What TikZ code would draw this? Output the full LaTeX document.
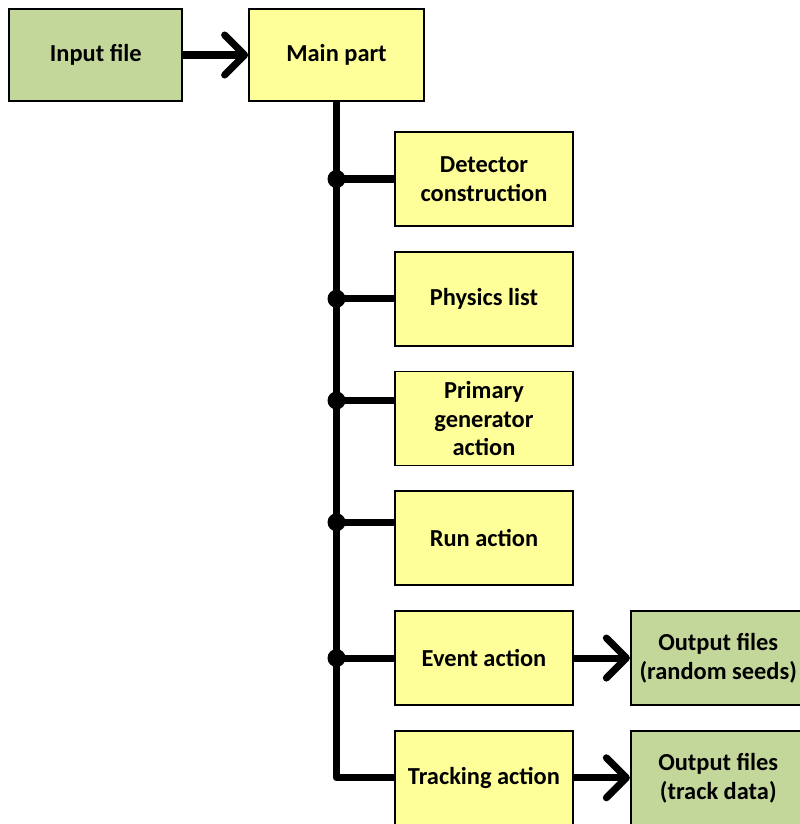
\documentclass[tikz,border=0pt]{standalone}
\usepackage{fontspec}
\setmainfont{Carlito}
\usetikzlibrary{positioning,arrows.meta}
\definecolor{boxyellow}{HTML}{FFFF99}
\definecolor{boxgreen}{HTML}{C4D79B}

\begin{document}
\begin{tikzpicture}[
        font=\fontsize{13.9}{16.5}\selectfont\bfseries,
        box/.style={draw, line width=1pt, align=center, minimum width=3.56cm, minimum height=1.88cm, inner sep=2pt},
        ybox/.style={box, fill=boxyellow},
        gbox/.style={box, fill=boxgreen},
        link/.style={line width=4pt},
        flow/.style={line width=4pt, -{Straight Barb[length=4mm,width=8mm,round]}},
        node distance=0.48cm
    ]
            \useasboundingbox (0,0) rectangle (16,-16.48);
            \clip (0,0) rectangle (16,-16.48);

            % Entree et programme principal
            \node[ybox, minimum width=3.5cm, minimum height=1.84cm] (main) at (6.73,-1.10) {Main part};
            \node[gbox, minimum width=3.46cm, minimum height=1.84cm, left=1.3cm of main] (input) {Input file};
            \draw[flow] (input) -- (main);

            % Classes utilisateur
            \node[ybox] (det) at (9.68,-3.58) {Detector\\construction};
            \node[ybox, below=of det] (phys) {Physics list};
            \node[ybox, below=of phys] (prim) {Primary\\generator\\action};
            \node[ybox, below=of prim] (run) {Run action};
            \node[ybox, below=of run] (evt) {Event action};
            \node[ybox, below=of evt] (trk) {Tracking action};

            % Fichiers de sortie
            \node[gbox, minimum width=3.5cm, right=1.12cm of evt] (seeds) {Output files\\(random seeds)};
            \node[gbox, minimum width=3.5cm, right=1.12cm of trk] (tracks) {Output files\\(track data)};
            \draw[flow] (evt) -- (seeds);
            \draw[flow] (trk) -- (tracks);

            % Tronc et branches
            \coordinate (pprim) at ([yshift=0.36cm]prim.west);
            \coordinate (prun) at ([yshift=0.32cm]run.west);
            \draw[link, line join=round] (main.south) |- (trk.west);
            \foreach \t in {det.west, phys.west, pprim, prun, evt.west} {
                \draw[link] (main.south |- \t) -- (\t);
                \fill (main.south |- \t) circle (0.18);
            }
        \end{tikzpicture}
\end{document}
